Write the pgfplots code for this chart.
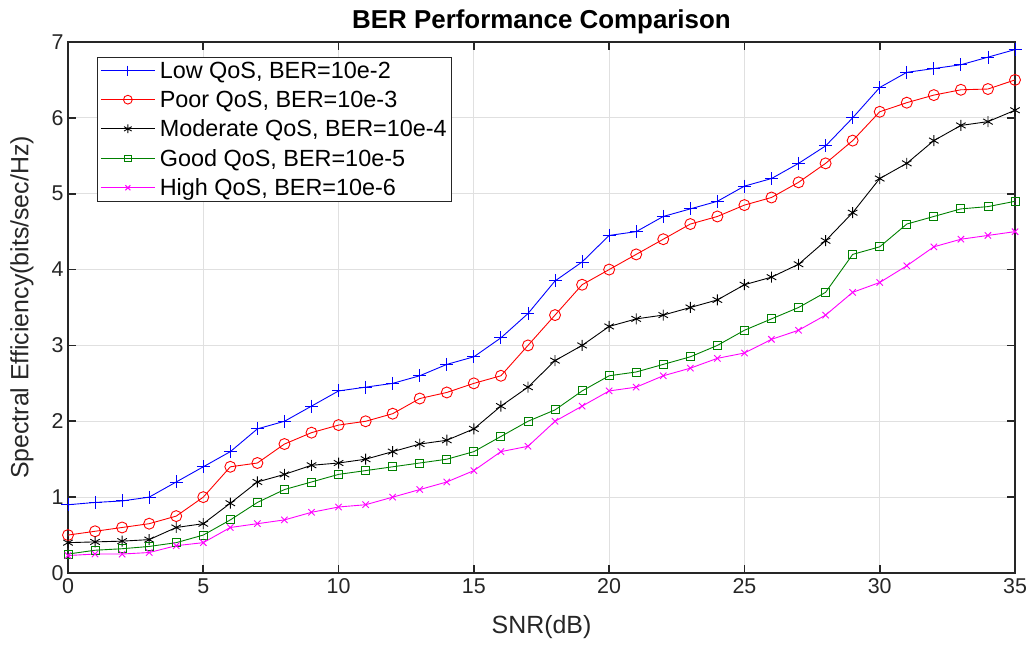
\documentclass[border=0pt]{standalone}
\usepackage{fontspec}
\setmainfont{Liberation Sans}
\usepackage{pgfplots}
\pgfplotsset{compat=1.18}
\definecolor{mgreen}{RGB}{0,128,0}
\definecolor{mag}{RGB}{255,0,255}
\definecolor{axgray}{RGB}{38,38,38}
\begin{document}
\begin{tikzpicture}[x=1bp,y=1bp]
\begin{axis}[
  scale only axis,
  width=947bp, height=531bp,
  xmin=0, xmax=35, ymin=0, ymax=7,
  xtick={0,5,...,35}, ytick={0,1,...,7},
  grid=major,
  major grid style={draw=black!12, line width=0.9pt},
  axis line style={draw=axgray, line width=1.8bp},
  tick style={draw=axgray, line width=1.8bp},
  tick align=inside,
  major tick length=8bp,
  /pgf/number format/assume math mode=true,
  ticklabel style={font=\fontsize{21.5}{21.5}\selectfont, text=axgray},
  xticklabel style={yshift=-2bp},
  yticklabel style={xshift=-1bp},
  title={\bfseries BER Performance Comparison},
  title style={font=\fontsize{26}{26}\selectfont, at={(axis description cs:0.5,1.0264)}, anchor=center},
  xlabel={SNR(dB)}, ylabel={Spectral Efficiency(bits/sec/Hz)},
  label style={font=\fontsize{25}{25}\selectfont, text=axgray},
  xlabel style={at={(axis description cs:0.5,-0.1017)}, anchor=center},
  ylabel style={at={(axis description cs:-0.0486,0.5)}, anchor=center, rotate=0},
  legend style={font=\fontsize{23.5}{23.5}\selectfont, draw=axgray, line width=0.9pt,
    at={(axis description cs:0.0306,0.9718)}, anchor=north west,
    inner xsep=3bp, inner ysep=3bp, row sep=8bp,
    nodes={inner sep=1.5bp}},
  legend cell align=left,
  legend image code/.code={\draw[mark repeat=2,mark phase=2, mark options={scale=0.8}] plot coordinates {(0bp,0bp) (27bp,0bp) (54bp,0bp)};},
  every axis plot/.append style={line width=0.9pt},
]
\addplot[blue, mark=+, mark size=6.5bp, mark options={line width=0.9pt}] coordinates {
(0,0.9)(1,0.93)(2,0.95)(3,1.0)(4,1.2)(5,1.4)(6,1.6)(7,1.9)(8,2.0)(9,2.2)(10,2.4)(11,2.45)(12,2.5)(13,2.6)(14,2.75)(15,2.85)(16,3.1)(17,3.42)(18,3.85)(19,4.1)(20,4.45)(21,4.5)(22,4.7)(23,4.8)(24,4.9)(25,5.1)(26,5.2)(27,5.4)(28,5.63)(29,6.0)(30,6.4)(31,6.6)(32,6.65)(33,6.7)(34,6.8)(35,6.9)};
\addlegendentry{\hspace{3bp}Low QoS, BER=10e-2}
\addplot[red, mark=o, mark size=5.5bp] coordinates {
(0,0.5)(1,0.55)(2,0.6)(3,0.65)(4,0.75)(5,1.0)(6,1.4)(7,1.45)(8,1.7)(9,1.85)(10,1.95)(11,2.0)(12,2.1)(13,2.3)(14,2.38)(15,2.5)(16,2.6)(17,3.0)(18,3.4)(19,3.8)(20,4.0)(21,4.2)(22,4.4)(23,4.6)(24,4.7)(25,4.85)(26,4.95)(27,5.15)(28,5.4)(29,5.7)(30,6.08)(31,6.2)(32,6.3)(33,6.37)(34,6.38)(35,6.5)};
\addlegendentry{\hspace{3bp}Poor QoS, BER=10e-3}
\addplot[black, mark=asterisk, mark size=5.5bp] coordinates {
(0,0.4)(1,0.41)(2,0.42)(3,0.44)(4,0.6)(5,0.65)(6,0.92)(7,1.2)(8,1.3)(9,1.42)(10,1.45)(11,1.5)(12,1.6)(13,1.7)(14,1.75)(15,1.9)(16,2.2)(17,2.45)(18,2.8)(19,3.0)(20,3.25)(21,3.35)(22,3.4)(23,3.5)(24,3.6)(25,3.8)(26,3.9)(27,4.07)(28,4.38)(29,4.75)(30,5.2)(31,5.4)(32,5.7)(33,5.9)(34,5.95)(35,6.1)};
\addlegendentry{\hspace{3bp}Moderate QoS, BER=10e-4}
\addplot[mgreen, mark=square, mark size=4bp] coordinates {
(0,0.25)(1,0.3)(2,0.32)(3,0.35)(4,0.4)(5,0.5)(6,0.7)(7,0.93)(8,1.1)(9,1.2)(10,1.3)(11,1.35)(12,1.4)(13,1.45)(14,1.5)(15,1.6)(16,1.8)(17,2.0)(18,2.15)(19,2.4)(20,2.6)(21,2.65)(22,2.75)(23,2.85)(24,3.0)(25,3.2)(26,3.35)(27,3.5)(28,3.7)(29,4.2)(30,4.3)(31,4.6)(32,4.7)(33,4.8)(34,4.83)(35,4.9)};
\addlegendentry{\hspace{3bp}Good QoS, BER=10e-5}
\addplot[mag, mark=x, mark size=4.5bp] coordinates {
(0,0.23)(1,0.25)(2,0.25)(3,0.27)(4,0.36)(5,0.4)(6,0.6)(7,0.65)(8,0.7)(9,0.8)(10,0.87)(11,0.9)(12,1.0)(13,1.1)(14,1.2)(15,1.35)(16,1.6)(17,1.67)(18,2.0)(19,2.2)(20,2.4)(21,2.45)(22,2.6)(23,2.7)(24,2.83)(25,2.9)(26,3.08)(27,3.2)(28,3.4)(29,3.7)(30,3.83)(31,4.05)(32,4.3)(33,4.4)(34,4.45)(35,4.5)};
\addlegendentry{\hspace{3bp}High QoS, BER=10e-6}
\end{axis}
\pgfresetboundingbox
\path[use as bounding box] (-68bp,-72bp) rectangle (962bp,573bp);
\end{tikzpicture}
\end{document}
